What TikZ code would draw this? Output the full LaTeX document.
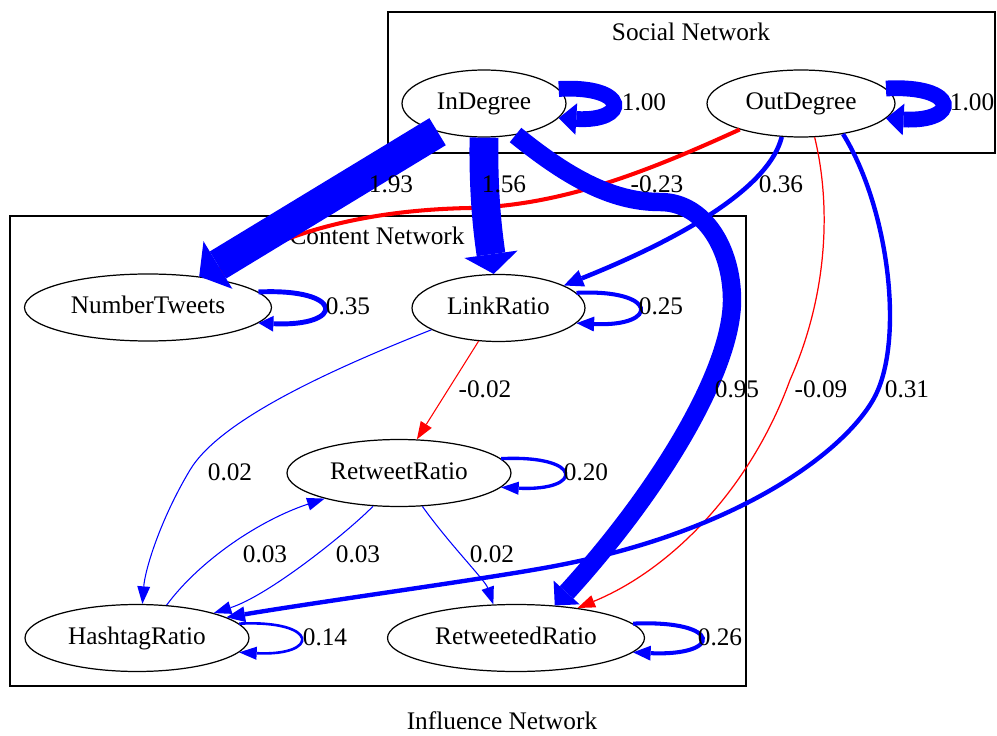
\documentclass[tikz,border=0pt]{standalone}
\usepackage{fontspec}
\setmainfont{Liberation Serif}
\usetikzlibrary{arrows.meta, shapes.geometric}

\tikzset{
    var/.style={draw, ellipse, line width=0.7pt, inner sep=0pt, minimum height=1.34cm},
    lbl/.style={inner sep=0pt},
    cluster/.style={draw, line width=0.7pt},
    poswt/.style={blue},
    negwt/.style={red},
    wt/.style args={#1/#2/#3}{line width=#1, -{Triangle[length=#2, width=#3, line width=0pt]}},
    fine/.style={wt={0.6pt/10pt/7.4pt}}
}

\begin{document}
\begin{tikzpicture}[x=0.02cm, y=-0.02cm,
    every node/.style={font=\fontsize{14.4pt}{17pt}\selectfont, text height=10pt, text depth=3pt}]
    \useasboundingbox (0,0) rectangle (997,736);

    % Clusters
    \draw[cluster] (388,12) rectangle (995,153);
    \node (soc) at (691,34) [lbl] {Social Network};
    \draw[cluster] (10,216) rectangle (746,686);
    \node (con) at (377,238) [lbl] {Content Network};
    \node (inf) at (502,723) [lbl] {Influence Network};

    % Variables
    \node (indeg) at (484,103.5) [var, minimum width=3.28cm] {InDegree};
    \node (outd) at (801,103.5) [var, minimum width=3.76cm] {OutDegree};
    \node (ntw) at (148,307.5) [var, minimum width=4.94cm] {NumberTweets};
    \node (lr) at (498.5,308) [var, minimum width=3.46cm] {LinkRatio};
    \node (rtr) at (399,473) [var, minimum width=4.48cm] {RetweetRatio};
    \node (hr) at (137,638) [var, minimum width=4.48cm] {HashtagRatio};
    \node (rdr) at (516,638) [var, minimum width=5.14cm] {RetweetedRatio};

    % Social -> content
    \draw[negwt, wt={2.3pt/10.5pt/8.5pt}] (outd.203) .. controls (640,175) and (560,205) .. (470,208)
        .. controls (360,210) and (280,235) .. (ntw.25);
    \draw[negwt, wt={0.7pt/10pt/7.4pt}] (outd.-68) .. controls (830,200) and (830,290) .. (790,380)
        .. controls (750,490) and (670,570) .. (rdr.26);
    \draw[poswt, wt={16.4pt/11.3pt/30.6pt}] (indeg.-90) .. controls (483,200) and (489,240) .. (lr.98);
    \draw[poswt, wt={10.5pt/10pt/20pt}] (indeg.-45) .. controls (565,175) and (610,202) .. (660,202)
        .. controls (705,202) and (732,250) .. (732,300)
        .. controls (732,370) and (660,490) .. (rdr.40);
    \draw[poswt, wt={2.6pt/11pt/10pt}] (outd.-120) .. controls (770,185) and (690,235) .. (lr.19);
    \draw[poswt, wt={2.5pt/10.5pt/9pt}] (outd.-36) .. controls (890,210) and (905,345) .. (873,400)
        .. controls (843,452) and (740,530) .. (560,565)
        .. controls (500,577) and (330,600) .. (hr.13);

    % Self loops
    \draw[poswt, wt={9pt/10pt/18pt}] (indeg.11) .. controls +(71,-4) and +(71,4) .. (indeg.-11);
    \draw[poswt, wt={9pt/10pt/18pt}] (outd.10) .. controls +(74,-4) and +(74,4) .. (outd.-10);
    \draw[poswt, wt={2.8pt/8.5pt/9pt}] (ntw.8) .. controls +(87,-4) and +(87,4) .. (ntw.-8);
    \draw[poswt, wt={2.3pt/10pt/8.5pt}] (lr.11) .. controls +(83,-4) and +(83,4) .. (lr.-11);
    \draw[poswt, wt={1.9pt/10pt/7.5pt}] (rtr.8.5) .. controls +(83,-4) and +(83,4) .. (rtr.-8.5);
    \draw[poswt, wt={1.5pt/10pt/7.5pt}] (hr.8.5) .. controls +(81,-4) and +(81,4) .. (hr.-8.5);
    \draw[poswt, wt={2.3pt/10pt/8.5pt}] (rdr.7.5) .. controls +(90,-4) and +(90,4) .. (rdr.-7.5);

    % Content edges
    \draw[negwt, fine] (lr.239) -- (rtr.62);
    \draw[poswt, fine] (lr.198) .. controls (330,370) and (220,420) .. (190,470)
        .. controls (160,520) and (145,570) .. (hr.81);
    \draw[poswt, fine] (hr.48) .. controls (200,560) and (260,520) .. (rtr.199);
    \draw[poswt, fine] (rtr.232) .. controls (350,530) and (270,595) .. (hr.18);
    \draw[poswt, fine] (rtr.-55) .. controls (450,545) and (485,580) .. (rdr.124);

    % Strongest edge
    \draw[poswt, wt={18pt/12.5pt/31.7pt}] (indeg) -- (ntw);

    % Weights
    \node (w1) at (644,104) [lbl] {1.00};
    \node (w2) at (972,104) [lbl] {1.00};
    \node (w3) at (391,186) [lbl] {1.93};
    \node (w4) at (504,186) [lbl] {1.56};
    \node (w5) at (657,186) [lbl] {-0.23};
    \node (w6) at (781,186) [lbl] {0.36};
    \node (w7) at (348,308) [lbl] {0.35};
    \node (w8) at (661,308) [lbl] {0.25};
    \node (w9) at (485,391) [lbl] {-0.02};
    \node (w10) at (737,391) [lbl] {0.95};
    \node (w11) at (821,391) [lbl] {-0.09};
    \node (w12) at (907,391) [lbl] {0.31};
    \node (w13) at (230,474) [lbl] {0.02};
    \node (w14) at (586,474) [lbl] {0.20};
    \node (w15) at (265,556) [lbl] {0.03};
    \node (w16) at (358,556) [lbl] {0.03};
    \node (w17) at (492,556) [lbl] {0.02};
    \node (w18) at (325,639) [lbl] {0.14};
    \node (w19) at (720,639) [lbl] {0.26};
\end{tikzpicture}
\end{document}
